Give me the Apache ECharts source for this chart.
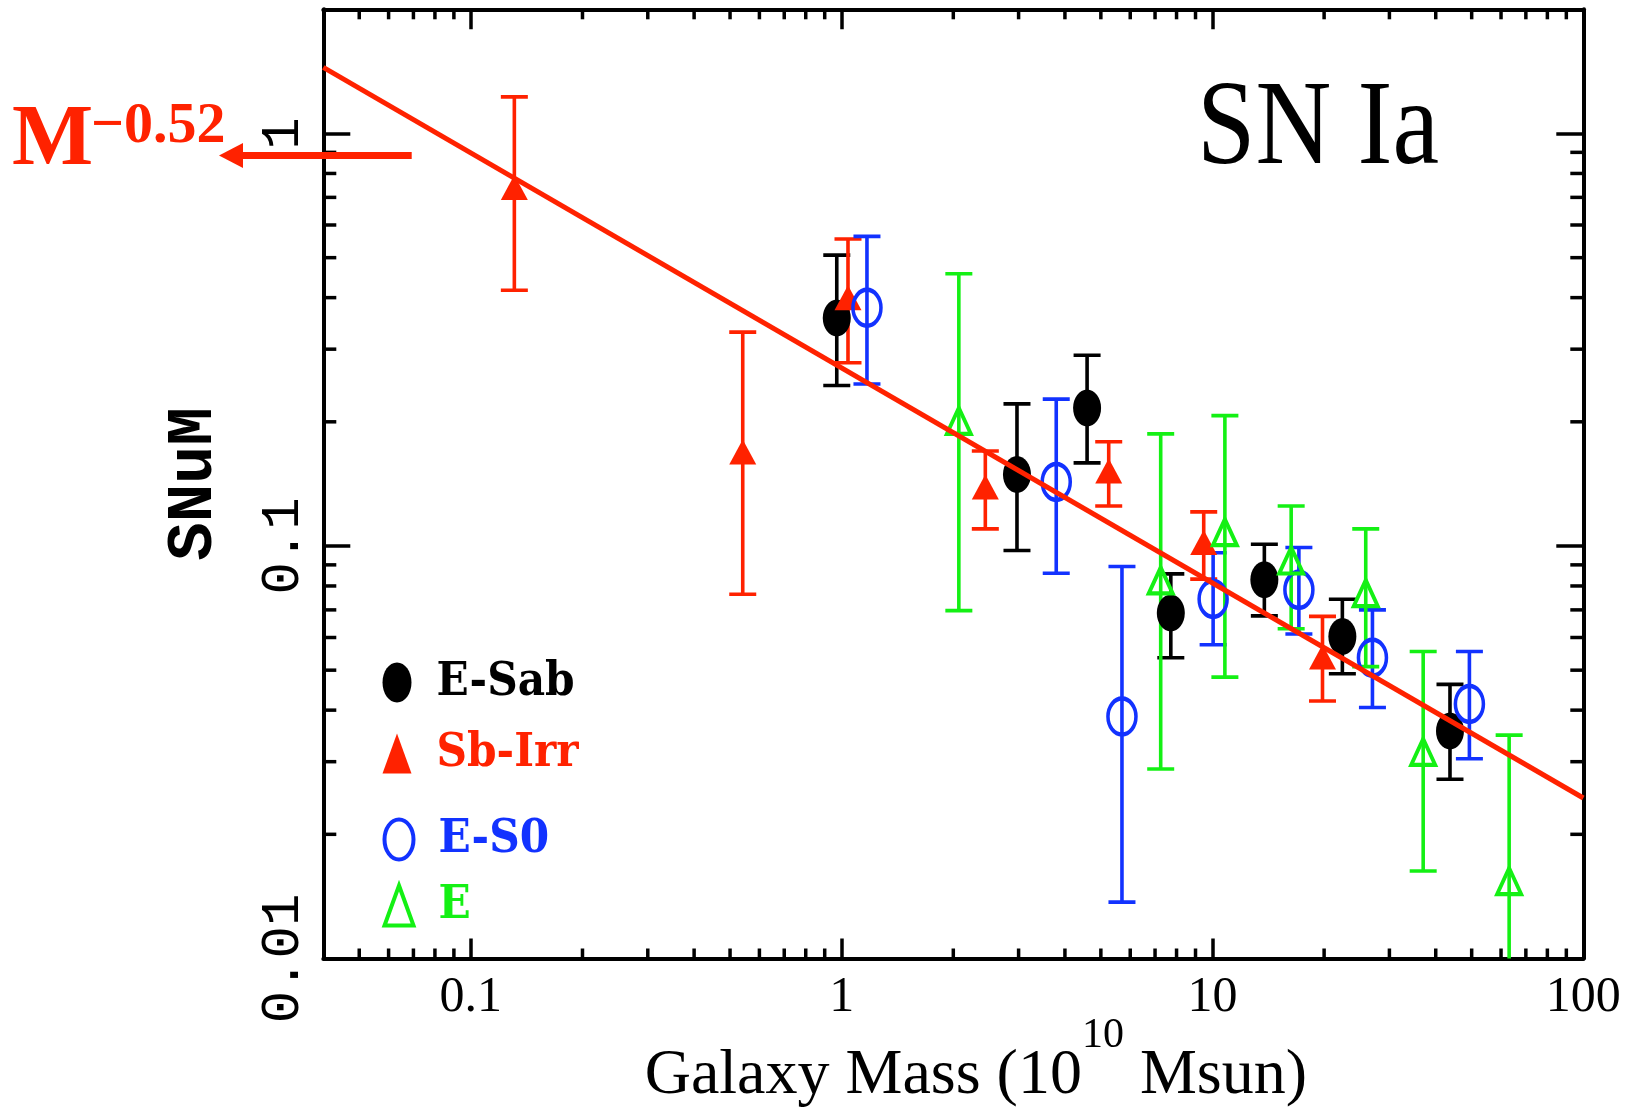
<!DOCTYPE html>
<html>
<head>
<meta charset="utf-8">
<script src="https://cdn.jsdelivr.net/npm/echarts@6/dist/echarts.min.js"></script>
<style>
  html, body { margin: 0; padding: 0; background: #fff; }
  #chart { width: 1626px; height: 1110px; }
</style>
</head>
<body>
<div id="chart"></div>
<script>
// SN Ia rate per unit mass (SNuM) versus galaxy mass (10^10 Msun),
// with lower / upper limits of the error bars, per morphological group.
const esabMass = [0.97, 2.97, 4.59, 7.72, 13.8, 22.4, 43.7];
const esabRate = [0.357, 0.149, 0.216, 0.0688, 0.0828, 0.0603, 0.0356];
const esabLow  = [0.245, 0.0975, 0.159, 0.0536, 0.0677, 0.049, 0.0272];
const esabHigh = [0.507, 0.221, 0.29, 0.0856, 0.101, 0.0743, 0.0462];

const sbirrMass = [0.131, 0.541, 1.04, 2.44, 5.25, 9.47, 19.8];
const sbirrRate = [0.74, 0.169, 0.40, 0.139, 0.152, 0.102, 0.0538];
const sbirrLow  = [0.417, 0.0764, 0.278, 0.110, 0.125, 0.0831, 0.0421];
const sbirrHigh = [1.227, 0.330, 0.555, 0.170, 0.179, 0.121, 0.0675];

const es0Mass = [1.17, 3.79, 5.70, 10.04, 17.1, 27.0, 49.3];
const es0Rate = [0.378, 0.143, 0.0386, 0.0744, 0.0783, 0.0536, 0.0414];
const es0Low  = [0.247, 0.0859, 0.0137, 0.0576, 0.0612, 0.0406, 0.0305];
const es0High = [0.563, 0.227, 0.0892, 0.0963, 0.0992, 0.070, 0.0555];

const eMass = [2.07, 7.25, 10.8, 16.3, 25.9, 37.0, 63.1];
const eRate = [0.201, 0.0825, 0.108, 0.0922, 0.0769, 0.0317, 0.0154];
const eLow  = [0.0697, 0.0288, 0.0481, 0.063, 0.051, 0.0163, 0.007];
const eHigh = [0.457, 0.187, 0.207, 0.125, 0.110, 0.0555, 0.0348];

// Power-law fit, SNuM proportional to M^-0.52, taken across the whole mass range
const fitMass = [0.04, 100];
const fitRate = [1.446, 0.0245];

// Axis ranges and labelled decades
const massRange = [0.04, 100];
const rateRange = [0.01, 2];
const xTickLabels = ['0.1', '1', '10', '100'];
const yTickLabels = ['0.01', '0.1', '1'];

const RED = '#ff2200', BLUE = '#1232ff', GREEN = '#14f014', BLACK = '#000000';
const ELLIPSE = 'path://M0,-1C0.5523,-1 1,-0.5523 1,0C1,0.5523 0.5523,1 0,1C-0.5523,1 -1,0.5523 -1,0C-1,-0.5523 -0.5523,-1 0,-1Z';

function zip2(a, b) { return a.map((v, i) => [v, b[i]]); }
function zip3(a, b, c) { return a.map((v, i) => [v, b[i], c[i]]); }

// 2..9 sub-decade positions inside an axis range (log axis minor ticks)
function minorTicks(range) {
  const out = [];
  for (let e = -3; e <= 3; e++) {
    for (let k = 2; k <= 9; k++) {
      const v = +(k * Math.pow(10, e)).toPrecision(6);
      if (v > range[0] && v < range[1]) out.push(v);
    }
  }
  return out;
}
const xMinor = minorTicks(massRange);
const yMinor = minorTicks(rateRange);

function labelFor(list) {
  return function (v) {
    const s = String(+(+v).toPrecision(6));
    return list.indexOf(s) >= 0 ? s : '';
  };
}

function errorBars(color) {
  return function (params, api) {
    const x = api.value(0);
    const lo = api.coord([x, api.value(1)]);
    const hi = api.coord([x, api.value(2)]);
    const hw = 13.5;
    const style = { stroke: color, lineWidth: 3.6, fill: null };
    return {
      type: 'group',
      children: [
        { type: 'line', shape: { x1: lo[0], y1: lo[1], x2: hi[0], y2: hi[1] }, style: style },
        { type: 'line', shape: { x1: lo[0] - hw, y1: lo[1], x2: lo[0] + hw, y2: lo[1] }, style: style },
        { type: 'line', shape: { x1: hi[0] - hw, y1: hi[1], x2: hi[0] + hw, y2: hi[1] }, style: style }
      ]
    };
  };
}

function errSeries(mass, low, high, color) {
  return {
    type: 'custom',
    clip: true,
    data: zip3(mass, low, high),
    encode: { x: 0, y: [1, 2] },
    renderItem: errorBars(color),
    silent: true
  };
}

// minor ticks on bottom/top (mass) and left/right (rate) edges of the frame
const minorStyle = { stroke: BLACK, lineWidth: 3.5 };
const xMinorSeries = {
  type: 'custom',
  silent: true,
  data: xMinor.map(v => [v, 1]),
  renderItem: function (params, api) {
    const p = api.coord([api.value(0), 1]);
    const cs = params.coordSys;
    const b = cs.y + cs.height, t = cs.y;
    return {
      type: 'group',
      children: [
        { type: 'line', shape: { x1: p[0], y1: b, x2: p[0], y2: b - 10 }, style: minorStyle },
        { type: 'line', shape: { x1: p[0], y1: t, x2: p[0], y2: t + 10 }, style: minorStyle }
      ]
    };
  }
};
const yMinorSeries = {
  type: 'custom',
  silent: true,
  data: yMinor.map(v => [1, v]),
  renderItem: function (params, api) {
    const p = api.coord([1, api.value(1)]);
    const cs = params.coordSys;
    const l = cs.x, r = cs.x + cs.width;
    return {
      type: 'group',
      children: [
        { type: 'line', shape: { x1: l, y1: p[1], x2: l + 13, y2: p[1] }, style: minorStyle },
        { type: 'line', shape: { x1: r, y1: p[1], x2: r - 13, y2: p[1] }, style: minorStyle }
      ]
    };
  }
};

const frameLine = { show: true, onZero: false, lineStyle: { color: BLACK, width: 4 } };

const chart = echarts.init(document.getElementById('chart'), null, { renderer: 'canvas' });

chart.setOption({
  animation: false,
  backgroundColor: '#ffffff',
  grid: {
    left: 323.3, right: 42.7, top: 9.3, bottom: 151.5,
    containLabel: false, outerBoundsMode: 'none'
  },
  xAxis: [
    {
      type: 'log', logBase: 10, min: massRange[0], max: massRange[1],
      position: 'bottom',
      axisLine: frameLine,
      axisTick: { show: true, inside: true, length: 20, lineStyle: { color: BLACK, width: 3.5 } },
      splitLine: { show: false },
      axisLabel: {
        formatter: labelFor(xTickLabels), color: BLACK,
        fontFamily: 'Liberation Serif', fontSize: 50, margin: 14
      },
      // {h| } is a thin spacer that makes the line tall enough to lift the exponent
      name: '{h| }{m|Galaxy Mass (10}{s|10}{m| Msun)}',
      nameLocation: 'middle',
      nameGap: 56,
      nameMoveOverlap: false,
      nameTextStyle: {
        color: BLACK,
        padding: [0, 0, 0, 44],
        rich: {
          h: { fontSize: 4, lineHeight: 94, verticalAlign: 'top' },
          m: { fontFamily: 'Liberation Serif', fontSize: 64, lineHeight: 64, verticalAlign: 'bottom', color: BLACK },
          s: { fontFamily: 'Liberation Serif', fontSize: 42, lineHeight: 40, verticalAlign: 'top', color: BLACK }
        }
      }
    },
    {
      type: 'log', logBase: 10, min: massRange[0], max: massRange[1],
      position: 'top',
      axisLine: frameLine,
      axisTick: { show: true, inside: true, length: 20, lineStyle: { color: BLACK, width: 3.5 } },
      axisLabel: { show: false },
      splitLine: { show: false }
    }
  ],
  yAxis: [
    {
      type: 'log', logBase: 10, min: rateRange[0], max: rateRange[1],
      position: 'left',
      axisLine: frameLine,
      axisTick: { show: true, inside: true, length: 27, lineStyle: { color: BLACK, width: 3.5 } },
      splitLine: { show: false },
      axisLabel: {
        formatter: labelFor(yTickLabels), color: BLACK, rotate: 90,
        fontFamily: 'Liberation Mono', fontSize: 54, margin: 13
      },
      name: 'SNuM',
      nameLocation: 'middle',
      nameGap: 96,
      nameMoveOverlap: false,
      nameTextStyle: { color: BLACK, fontFamily: 'Liberation Mono', fontWeight: 'bold', fontSize: 64 }
    },
    {
      type: 'log', logBase: 10, min: rateRange[0], max: rateRange[1],
      position: 'right',
      axisLine: frameLine,
      axisTick: { show: true, inside: true, length: 27, lineStyle: { color: BLACK, width: 3.5 } },
      axisLabel: { show: false },
      splitLine: { show: false }
    }
  ],
  legend: [
    {
      orient: 'vertical', left: 382.5, top: 659, padding: 0, itemGap: 24,
      itemWidth: 29, itemHeight: 40, symbolKeepAspect: false,
      selectedMode: false,
      textStyle: { fontFamily: 'DejaVu Serif Condensed', fontWeight: 'bold', fontSize: 47, lineHeight: 40, padding: [0, 0, 0, 20] },
      data: [
        { name: 'E-Sab', textStyle: { color: BLACK } },
        { name: 'Sb-Irr', textStyle: { color: RED } }
      ]
    },
    {
      orient: 'vertical', left: 382.5, top: 816, padding: 0, itemGap: 19,
      itemWidth: 29, itemHeight: 40, symbolKeepAspect: false,
      selectedMode: false,
      textStyle: { fontFamily: 'DejaVu Serif Condensed', fontWeight: 'bold', fontSize: 47, lineHeight: 40, padding: [0, 0, 0, 20] },
      data: [
        { name: 'E-S0', textStyle: { color: BLUE }, itemStyle: { borderWidth: 4, borderColor: BLUE } },
        { name: 'E', textStyle: { color: GREEN }, itemStyle: { borderWidth: 4, borderColor: GREEN } }
      ]
    }
  ],
  series: [
    xMinorSeries,
    yMinorSeries,
    errSeries(esabMass, esabLow, esabHigh, BLACK),
    {
      name: 'E-Sab', type: 'scatter', data: zip2(esabMass, esabRate),
      symbol: ELLIPSE, symbolSize: [28, 37],
      itemStyle: { color: BLACK, opacity: 1 }
    },
    errSeries(sbirrMass, sbirrLow, sbirrHigh, RED),
    {
      name: 'Sb-Irr', type: 'scatter', data: zip2(sbirrMass, sbirrRate),
      symbol: 'triangle', symbolSize: [27, 25],
      itemStyle: { color: RED, opacity: 1 }
    },
    errSeries(es0Mass, es0Low, es0High, BLUE),
    {
      name: 'E-S0', type: 'scatter', data: zip2(es0Mass, es0Rate),
      symbol: ELLIPSE, symbolSize: [28, 36],
      itemStyle: { color: 'rgba(255,255,255,0)', borderColor: BLUE, borderWidth: 4, opacity: 1 }
    },
    errSeries(eMass, eLow, eHigh, GREEN),
    {
      name: 'E', type: 'scatter', data: zip2(eMass, eRate),
      symbol: 'triangle', symbolSize: [24, 26],
      itemStyle: { color: 'rgba(255,255,255,0)', borderColor: GREEN, borderWidth: 4, opacity: 1 }
    },
    {
      name: 'fit', type: 'line', data: zip2(fitMass, fitRate),
      symbol: 'none', z: 4, silent: true,
      lineStyle: { color: RED, width: 5 }
    }
  ],
  graphic: [
    {
      type: 'text', x: 1197, y: 131, scaleX: 1, scaleY: 1.15, originX: 0, originY: 0,
      style: {
        text: 'SN Ia', fill: BLACK,
        font: '105px "Liberation Serif"',
        textAlign: 'left', textVerticalAlign: 'middle', align: 'left', verticalAlign: 'middle'
      }
    },
    {
      type: 'text', x: 12, y: 142,
      style: {
        text: 'M', fill: RED,
        font: 'bold 86px "Liberation Serif"',
        textAlign: 'left', textVerticalAlign: 'middle', align: 'left', verticalAlign: 'middle'
      }
    },
    {
      type: 'text', x: 91, y: 127,
      style: {
        text: '\u22120.52', fill: RED,
        font: 'bold 58px "Liberation Serif"',
        textAlign: 'left', textVerticalAlign: 'middle', align: 'left', verticalAlign: 'middle'
      }
    },
    {
      type: 'line', z: 100,
      shape: { x1: 411.7, y1: 155.5, x2: 238, y2: 155.5 },
      style: { stroke: RED, lineWidth: 7 }
    },
    {
      type: 'polygon', z: 100,
      shape: { points: [[219, 155.5], [243, 143], [243, 168]] },
      style: { fill: RED }
    }
  ]
});
</script>
</body>
</html>
